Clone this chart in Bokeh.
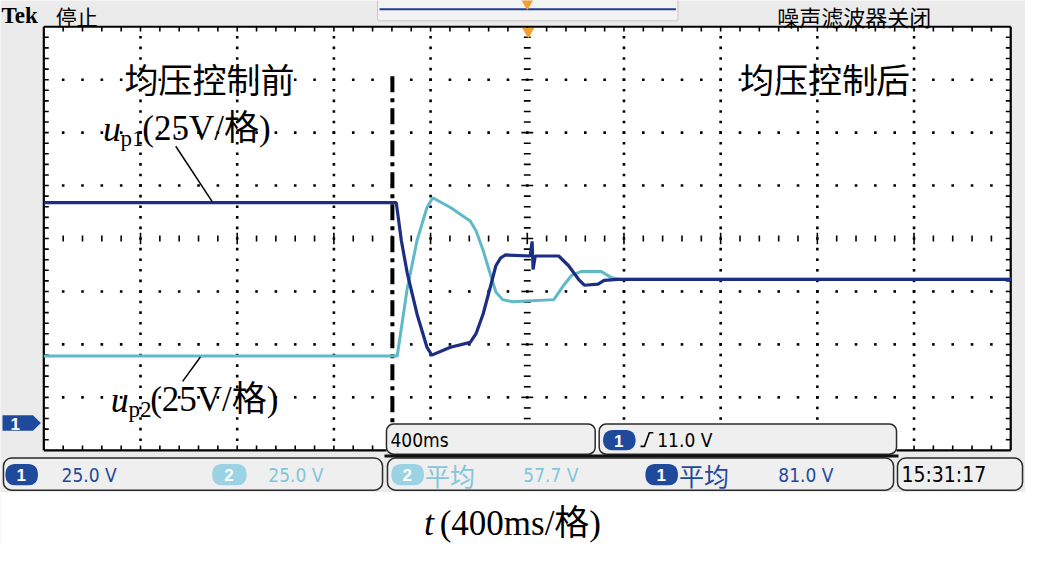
import numpy as np
from bokeh.plotting import figure
from bokeh.models import Range1d, BoxAnnotation
from bokeh.core.properties import value
from bokeh.embed import file_html
from bokeh.resources import INLINE

# ---------------- data ----------------
# channel 1 (u_p1), time in ms, voltage in V
t_up1 = [0, 1458, 1479, 1503, 1544, 1585, 1605, 1682, 1764, 1788, 1817, 1845, 1870, 1890,
         1910, 2012, 2020, 2024, 2033, 2130, 2171, 2212, 2236, 2293, 2318, 2375, 4000]
v_up1 = [104.1, 104.1, 86.2, 71.1, 51.4, 35.8, 32.1, 35.8, 38.1, 42.2, 51.4, 63.3, 74.3, 78.0,
         79.4, 78.9, 85.8, 72.5, 78.9, 78.9, 74.3, 67.9, 65.1, 65.6, 67.4, 67.9, 67.9]
# channel 2 (u_p2)
t_up2 = [0, 1462, 1503, 1544, 1585, 1609, 1682, 1764, 1788, 1817, 1845, 1870, 1898, 1939,
         2110, 2151, 2183, 2224, 2306, 2346, 2379, 4000]
v_up2 = [31.7, 31.7, 63.3, 86.2, 101.8, 106.4, 101.8, 95.4, 90.8, 81.7, 71.1, 61.9, 58.3, 57.3,
         58.3, 65.1, 69.7, 71.6, 71.6, 68.8, 67.9, 67.9]
t_switch = [1442]  # moment the balancing control is switched on

label_before = "均压控制前"
label_after = "均压控制后"
ch1_scale = "25.0 V"
ch2_scale = "25.0 V"
ch2_mean = "57.7 V"
ch1_mean = "81.0 V"
timebase = "400ms"
trigger_level = "11.0 V"
clock = "15:31:17"
mean_word = "平均"

# ---------------- geometry ----------------
W, H = 1025, 545
REF_W, REF_H = 1041, 561
GX0, GXDIV = 44, 98.2      # graticule left edge (px), px per division
GY0, GYDIV = 435, 54.5     # ground marker (px), px per division
MS_DIV, V_DIV = 400, 25
GTOP, GBOT, GRIGHT = 27, 463, 1026


def X(px):
    return (px - GX0) / GXDIV * MS_DIV


def Y(py):
    return (GY0 - py) / GYDIV * V_DIV


PXX = MS_DIV / GXDIV
PXY = V_DIV / GYDIV

p = figure(width=W, height=H, x_range=Range1d(X(0), X(REF_W)), y_range=Range1d(Y(REF_H), Y(0)),
           output_backend="svg", toolbar_location=None, x_axis_location=None, y_axis_location=None,
           min_border=0, background_fill_color="#ebebeb", border_fill_color="#ebebeb",
           outline_line_color=None)
p.xgrid.visible = False
p.ygrid.visible = False

CJK = "Noto Sans CJK SC"
SERIF = "Liberation Serif, Noto Sans CJK SC"
NARROW = "Liberation Sans Narrow, DejaVu Sans Condensed, Roboto Condensed, Liberation Sans"
BLUE = "#1f4a9c"
CYAN_PILL = "#9bd3e4"
CYAN_TXT = "#7fc6da"
TR1 = "#1c2d84"
TR2 = "#5fb9c9"


def box(l, r, t, b, fill, line=None, lw=1.0, radius=0):
    p.add_layout(BoxAnnotation(left=X(l), right=X(r), top=Y(t), bottom=Y(b),
                               fill_color=fill, fill_alpha=1.0,
                               line_color=line if line else "black",
                               line_alpha=1.0 if line else 0.0, line_width=lw,
                               border_radius=radius, level="underlay"))


def txt(px, py, s, size, color="black", font=CJK, style="normal", align="left", baseline="middle"):
    p.text(x=[X(px)], y=[Y(py)], text=[s], text_font=value(font), text_font_size=f"{size}px",
           text_color=color, text_font_style=style, text_align=align, text_baseline=baseline)


# ---------------- backgrounds (underlay) ----------------
box(GX0, GRIGHT, GTOP, GBOT, "white")
box(0, REF_W, 506, REF_H + 5, "white")
# top record view
box(383, 688, -3, 21, "#f3f3f3", "#c4c4c4", 1, 2)
# readout boxes
box(392, 604, 436, 467, "#efefef", "#2a2a2a", 1.5, 7)
box(608, 910, 436, 467, "#efefef", "#2a2a2a", 1.5, 7)
box(3, 388, 471, 504, "#efefef", "#2a2a2a", 1.5, 8)
box(393, 907, 471, 504, "#efefef", "#2a2a2a", 1.5, 8)
box(911, 1038, 471, 504, "#efefef", "#2a2a2a", 1.5, 8)
# channel pills
box(5, 38, 477, 499, BLUE, None, 1, 9)
box(215, 250, 477, 499, CYAN_PILL, None, 1, 9)
box(397, 430, 477, 499, CYAN_PILL, None, 1, 9)
box(655, 688, 477, 499, BLUE, None, 1, 9)
box(612, 645, 442, 463, BLUE, None, 1, 9)

# ---------------- graticule ----------------
top_v, bot_v = Y(GTOP), Y(GBOT)
mid_v = Y((GTOP + GBOT) / 2)
x_end = 10 * MS_DIV
hole_l, hole_r, hole_t = X(392), X(910), Y(436)

# border
p.segment(x0=[0, 0, x_end, 0, X(910)], y0=[top_v, top_v, top_v, bot_v, bot_v],
          x1=[x_end, 0, x_end, X(392), x_end], y1=[top_v, bot_v, bot_v, bot_v, bot_v],
          line_color="black", line_width=2.2)

minor_x = np.arange(1, 50) * MS_DIV / 5
minor_y = bot_v + np.arange(1, 40) * V_DIV / 5

# edge ticks
tk = 5
p.segment(x0=minor_x, y0=np.full(minor_x.size, top_v), x1=minor_x,
          y1=np.full(minor_x.size, top_v - tk * PXY), line_color="black", line_width=1.6)
bx = minor_x[(minor_x < hole_l) | (minor_x > hole_r)]
p.segment(x0=bx, y0=np.full(bx.size, bot_v), x1=bx, y1=np.full(bx.size, bot_v + tk * PXY),
          line_color="black", line_width=1.6)
p.segment(x0=np.zeros(minor_y.size), y0=minor_y, x1=np.full(minor_y.size, tk * PXX), y1=minor_y,
          line_color="black", line_width=1.6)
p.segment(x0=np.full(minor_y.size, x_end), y0=minor_y, x1=np.full(minor_y.size, x_end - tk * PXX),
          y1=minor_y, line_color="black", line_width=1.6)

# dotted major columns
dx, dy = [], []
for c in [1, 2, 3, 4, 6, 7, 8, 9]:
    for yv in minor_y:
        xv = c * MS_DIV
        if hole_l <= xv <= hole_r and yv < hole_t:
            continue
        dx.append(xv)
        dy.append(yv)
# dotted major rows
for r in [-3, -2, -1, 1, 2, 3]:
    for xv in minor_x:
        dx.append(xv)
        dy.append(mid_v + r * V_DIV)
p.scatter(x=dx, y=dy, marker="square", size=2.6, fill_color="black", line_color=None)

# centre lines with ticks
is_major_x = np.isclose(minor_x % MS_DIV, 0)
tl = np.where(is_major_x, 6, 3) * PXY
p.segment(x0=minor_x, y0=mid_v - tl, x1=minor_x, y1=mid_v + tl, line_color="black", line_width=1.6)
cx = 5 * MS_DIV
cy = minor_y[~((minor_y < hole_t) & (cx >= hole_l) & (cx <= hole_r))]
frac = ((cy - bot_v) / V_DIV) % 1
is_major_y = np.isclose(frac, 0) | np.isclose(frac, 1)
tw = np.where(is_major_y, 6, 3.5) * PXX
p.segment(x0=cx - tw, y0=cy, x1=cx + tw, y1=cy, line_color="black", line_width=1.6)

# ---------------- switch moment ----------------
p.segment(x0=t_switch, y0=[Y(78)], x1=t_switch, y1=[Y(436)], line_color="black", line_width=4,
          line_dash="16 6 4 6")

# ---------------- traces ----------------
p.line(t_up2, v_up2, line_color=TR2, line_width=3)
p.line(t_up1, v_up1, line_color=TR1, line_width=3.2)

# ---------------- annotations ----------------
txt(126, 80, label_before, 34)
txt(751, 80, label_after, 34)

txt(104, 132, "u", 36, font=SERIF, style="italic")
txt(122, 142, "p1", 23, font=SERIF)
txt(144, 132, "(25V/格)", 35, font=SERIF)
p.segment(x0=[X(178)], y0=[Y(150)], x1=[X(215)], y1=[Y(207)], line_color="black", line_width=1.5)

txt(112, 411, "u", 36, font=SERIF, style="italic")
txt(130, 421, "p2", 23, font=SERIF)
txt(152, 411, "(25V/格)", 35, font=SERIF)
p.segment(x0=[X(185)], y0=[Y(392)], x1=[X(203)], y1=[Y(367)], line_color="black", line_width=1.5)

txt(430, 538, "t", 36, font=SERIF, style="italic")
txt(446, 538, "(400ms/格)", 35, font=SERIF)

# top bar
txt(1, 15, "Tek", 23, font="Liberation Serif", style="bold")
txt(56, 16, "停止", 21)
txt(789, 16, "噪声滤波器关闭", 22)
p.segment(x0=[X(385)], y0=[Y(9)], x1=[X(686)], y1=[Y(9)], line_color="#23408e", line_width=2)
p.scatter(x=[X(535)], y=[Y(3)], marker="inverted_triangle", size=12, fill_color="#f0a030",
          line_color=None)
p.scatter(x=[X(536)], y=[Y(32)], marker="inverted_triangle", size=12, fill_color="#f0a030",
          line_color=None)

# ch1 ground marker
p.patch(x=[X(2), X(33), X(41), X(33), X(2)], y=[Y(427), Y(427), Y(435), Y(443), Y(443)],
        fill_color=BLUE, line_color=None)
txt(15, 436, "1", 17, "white", "Liberation Sans", "bold", "center")

# readouts
txt(396, 452, timebase, 19, font=NARROW)
txt(628, 453, "1", 17, "white", "Liberation Sans", "bold", "center")
p.line(x=[X(650), X(654), X(659), X(663)], y=[Y(459), Y(459), Y(445), Y(445)],
       line_color="black", line_width=1.6)
txt(667, 452, trigger_level, 19, font=NARROW)

txt(21, 488, "1", 17, "white", "Liberation Sans", "bold", "center")
txt(62, 488, ch1_scale, 19, BLUE, NARROW)
txt(232, 488, "2", 17, "white", "Liberation Sans", "bold", "center")
txt(272, 488, ch2_scale, 19, CYAN_TXT, NARROW)

txt(413, 488, "2", 17, "white", "Liberation Sans", "bold", "center")
txt(431, 488, mean_word, 25, CYAN_TXT)
txt(531, 488, ch2_mean, 19, CYAN_TXT, NARROW)
txt(671, 488, "1", 17, "white", "Liberation Sans", "bold", "center")
txt(689, 488, mean_word, 25, BLUE)
txt(790, 488, ch1_mean, 19, BLUE, NARROW)

txt(915, 488, clock, 21, font=NARROW)
p.segment(x0=[X(390)], y0=[Y(469)], x1=[X(912)], y1=[Y(469)], line_color="#111111", line_width=3)

open("out.html", "w").write(file_html(p, INLINE))
